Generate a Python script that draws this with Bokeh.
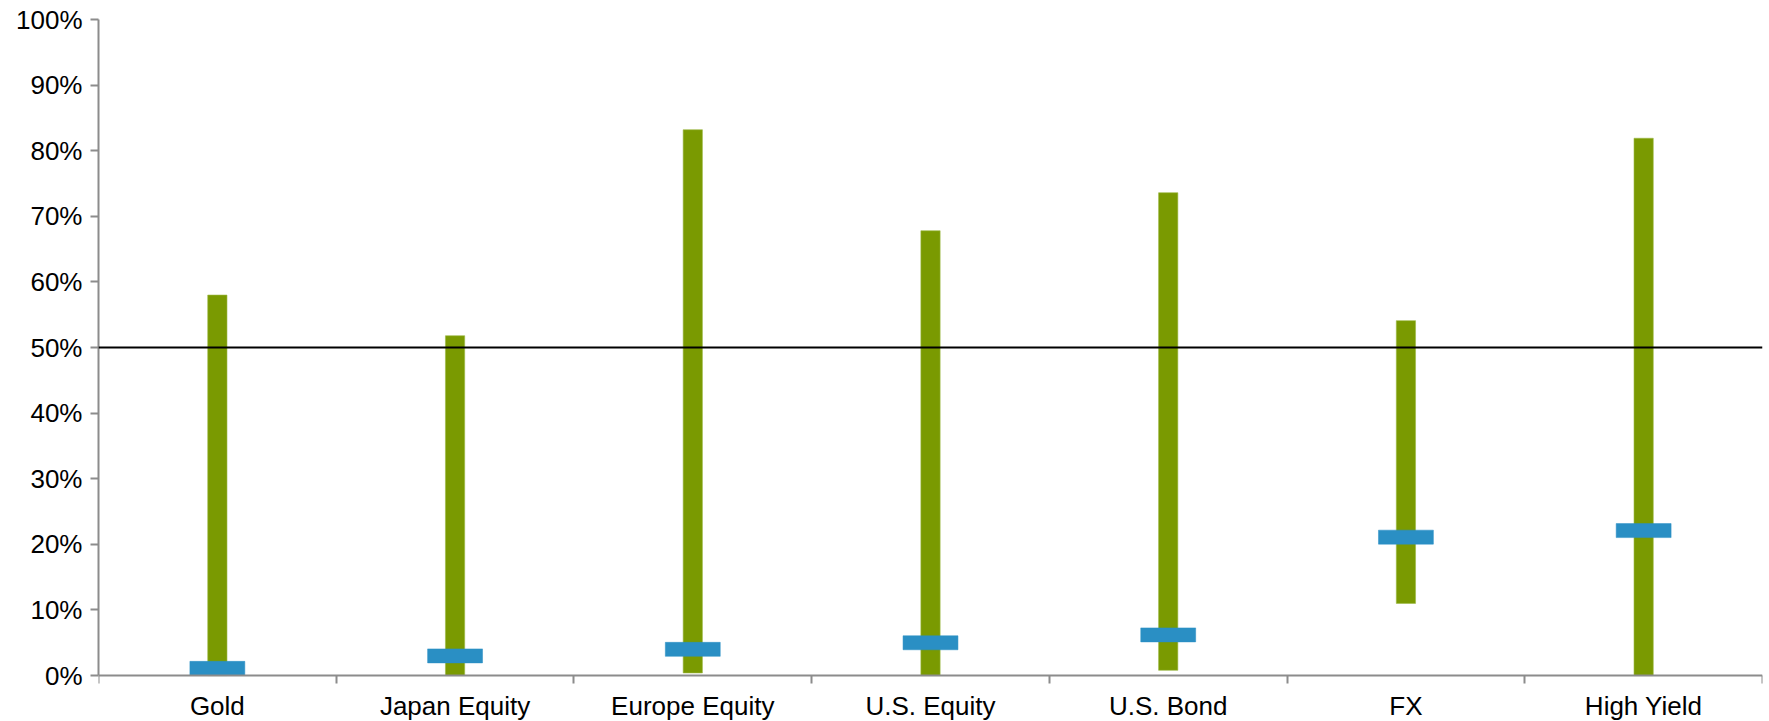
from bokeh.plotting import figure
from bokeh.models import Range1d, LinearAxis, FixedTicker, PrintfTickFormatter, Span, ColumnDataSource
from bokeh.embed import file_html
from bokeh.resources import INLINE

# ---- data (percent) ----
categories = ["Gold", "Japan Equity", "Europe Equity", "U.S. Equity", "U.S. Bond", "FX", "High Yield"]
range_low = [0.0, 0.0, 0.4, 0.0, 0.8, 11.0, 0.0]
range_high = [58.0, 51.8, 83.2, 67.8, 73.6, 54.1, 81.9]
current = [1.1, 3.0, 4.0, 5.0, 6.2, 21.1, 22.1]
y_ticks = [0, 10, 20, 30, 40, 50, 60, 70, 80, 90, 100]
threshold = 50

FONT = "Liberation Sans"
AXIS_GRAY = "#8c8c8c"
GREEN = "#7a9a01"
BLUE = "#2a8fc4"

n = len(categories)
xs = [i + 0.5 for i in range(n)]
src = ColumnDataSource(dict(x=xs, cat=categories, low=range_low, high=range_high, cur=current))

p = figure(width=1769, height=721, output_backend="svg", toolbar_location=None,
           x_axis_location=None, y_axis_location="left",
           x_range=Range1d(0, n), y_range=Range1d(-7.0, 100),
           min_border_left=98, min_border_right=7, min_border_top=19, min_border_bottom=0)
p.outline_line_color = None
p.xgrid.visible = False
p.ygrid.visible = False
p.background_fill_color = "white"
p.border_fill_color = "white"

# green range bars
p.vbar(x="x", bottom="low", top="high", width=0.081, source=src,
       fill_color=GREEN, line_color="#9cb845", line_width=0.6)
# blue current markers
p.rect(x="x", y="cur", width=0.231, height=14, height_units="screen", source=src,
       fill_color=BLUE, line_color=BLUE, line_width=0.5)

# 50% reference line
p.add_layout(Span(location=threshold, dimension="width", line_color="black", line_width=2))

# y axis
ya = p.yaxis[0]
ya.ticker = FixedTicker(ticks=y_ticks)
ya.formatter = PrintfTickFormatter(format="%d%%")
ya.bounds = (0, 100)
ya.major_tick_out = 8
ya.major_tick_in = 0
ya.minor_tick_line_color = None
ya.axis_line_color = AXIS_GRAY
ya.axis_line_width = 2
ya.major_tick_line_color = AXIS_GRAY
ya.major_tick_line_width = 2
ya.major_label_standoff = 8
ya.major_label_text_font = FONT
ya.major_label_text_font_size = "26px"
ya.major_label_text_color = "#000000"

# x axis: boundary ticks
tick_axis = LinearAxis(fixed_location=0, ticker=FixedTicker(ticks=list(range(n + 1))),
                       major_tick_out=8, major_tick_in=0,
                       axis_line_color=AXIS_GRAY, axis_line_width=2,
                       major_tick_line_color=AXIS_GRAY, major_tick_line_width=2,
                       minor_tick_line_color=None,
                       major_label_text_font_size="0px",
                       major_label_overrides={i: "" for i in range(n + 1)})
p.add_layout(tick_axis, "below")

# x axis: category labels centred in each slot
label_axis = LinearAxis(fixed_location=0, ticker=FixedTicker(ticks=xs),
                        major_tick_out=0, major_tick_in=0,
                        axis_line_color=None, major_tick_line_color=None,
                        minor_tick_line_color=None,
                        major_label_standoff=15,
                        major_label_text_font=FONT,
                        major_label_text_font_size="26px",
                        major_label_text_color="#000000",
                        major_label_overrides={x: c for x, c in zip(xs, categories)})
p.add_layout(label_axis, "below")

open("out.html", "w").write(file_html(p, INLINE))
